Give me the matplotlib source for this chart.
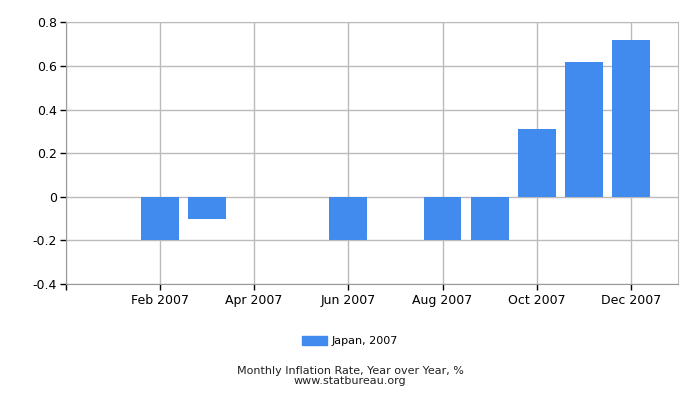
import matplotlib
matplotlib.use('Agg')
import matplotlib.pyplot as plt
from matplotlib.patches import Patch

# data
months = ['Jan 2007', 'Feb 2007', 'Mar 2007', 'Apr 2007', 'May 2007', 'Jun 2007',
          'Jul 2007', 'Aug 2007', 'Sep 2007', 'Oct 2007', 'Nov 2007', 'Dec 2007']
inflation = [0.0, -0.2, -0.1, 0.0, 0.0, -0.2, 0.0, -0.2, -0.2, 0.31, 0.62, 0.72]
yticks = [-0.4, -0.2, 0, 0.2, 0.4, 0.6, 0.8]
ytick_labels = ['-0.4', '-0.2', '0', '0.2', '0.4', '0.6', '0.8']

bar_color = '#418BEE'
grid_color = '#BBBBBB'

plt.rcParams['font.family'] = ['DejaVu Sans']

fig = plt.figure(figsize=(7, 4), dpi=100)
ax = fig.add_axes([0.0936, 0.29, 0.8754, 0.654])

x = list(range(1, len(months) + 1))
ax.bar(x, inflation, width=0.8, color=bar_color, zorder=3)

ax.set_xlim(0, 13)
ax.set_ylim(-0.4, 0.8)
ax.set_yticks(yticks)
ax.set_yticklabels(ytick_labels)
ax.set_xticks([0] + x[1::2])
ax.set_xticklabels([''] + months[1::2])

ax.grid(True, color=grid_color, linewidth=1, zorder=0)
for s in ax.spines.values():
    s.set_color(grid_color)
ax.spines['left'].set_color('#999999')
ax.spines['bottom'].set_color('#999999')
ax.tick_params(axis='both', colors='black', labelsize=9, length=4, width=1)
ax.tick_params(axis='y', pad=2)
ax.tick_params(axis='x', pad=3)

fig.legend(handles=[Patch(color=bar_color, label='Japan, 2007')],
           loc='center', bbox_to_anchor=(0.5, 0.147), frameon=False,
           fontsize=8, handlelength=2.2, handleheight=0.8, handletextpad=0.4)

fig.text(0.5, 0.072, 'Monthly Inflation Rate, Year over Year, %', ha='center', va='center',
         fontsize=8, color='#222222')
fig.text(0.5, 0.047, 'www.statbureau.org', ha='center', va='center',
         fontsize=8, color='#222222')

fig.savefig('out.png', dpi=100)
